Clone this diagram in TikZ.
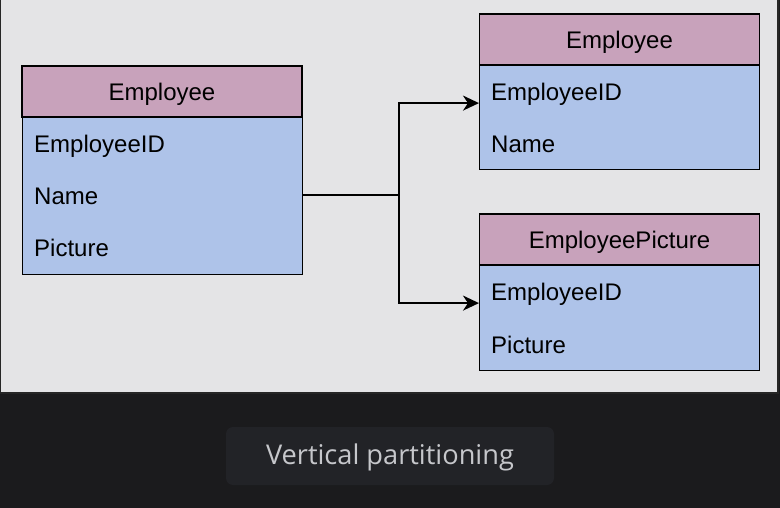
\documentclass[tikz,border=0pt]{standalone}
\usepackage{fontspec}
\setmainfont{Liberation Sans}
\newfontfamily\captionfont{Open Sans}
\usetikzlibrary{arrows.meta}

\definecolor{canvas}{HTML}{E4E4E6}
\definecolor{pagedark}{HTML}{1B1B1D}
\definecolor{capbox}{HTML}{222327}
\definecolor{captext}{HTML}{C6C7CB}
\definecolor{hdrfill}{HTML}{C8A2BB}
\definecolor{rowfill}{HTML}{AEC3E9}

\tikzset{
    hdr/.style={draw=black, line width=1.6pt, fill=hdrfill, minimum width=280, minimum height=51, inner sep=0pt, text height=17.2pt, text depth=0pt, font=\fontsize{24}{28}\selectfont},
    tbody/.style={draw=black, line width=1pt, fill=rowfill, minimum width=280, inner sep=0pt},
    field/.style={anchor=base west, inner sep=0pt, font=\fontsize{24}{28}\selectfont},
    link/.style={draw=black, line width=2pt, -{Stealth[length=16pt, width=15pt, inset=5pt]}}
}

\begin{document}
\begin{tikzpicture}[x=1pt, y=-1pt]
\useasboundingbox (0,0) rectangle (780,508);

% background and caption
\fill[pagedark] (0,0) rectangle (780,508);
\draw[fill=canvas, draw=black!85, line width=1.4pt] (0.7,-2) rectangle (778,393);
\path[fill=capbox, rounded corners=7pt] (226,427) rectangle (554,485);
\path (390,457) node[text=captext, font=\captionfont\fontsize{27.2}{31}\selectfont] (caption) {Vertical partitioning};

% source table
\path (162,195.5) node[tbody, minimum height=157] (empbody) {};
\path (162,91.5) node[hdr] (emp) {Employee};
\path (34,153) node[field] (empid) {EmployeeID};
\path (34,205) node[field] (empname) {Name};
\path (34,257) node[field] (emppic) {Picture};

% first partition
\path (619.5,117.5) node[tbody, minimum height=105] (partabody) {};
\path (619.5,39.5) node[hdr] (parta) {Employee};
\path (491,101) node[field] (partaid) {EmployeeID};
\path (491,153) node[field] (partaname) {Name};

% second partition
\path (619.5,317.5) node[tbody, minimum height=105] (partbbody) {};
\path (619.5,239.5) node[hdr] (partb) {EmployeePicture};
\path (491,301) node[field] (partbid) {EmployeeID};
\path (491,353) node[field] (partbpic) {Picture};

% connectors
\coordinate (split) at (399,195.5);
\draw[link] (empbody.east) -- (split) |- ([yshift=-8.3pt]partabody.west |- partaid);
\draw[link] (split) |- ([yshift=-8.3pt]partbbody.west |- partbid);

\end{tikzpicture}
\end{document}
